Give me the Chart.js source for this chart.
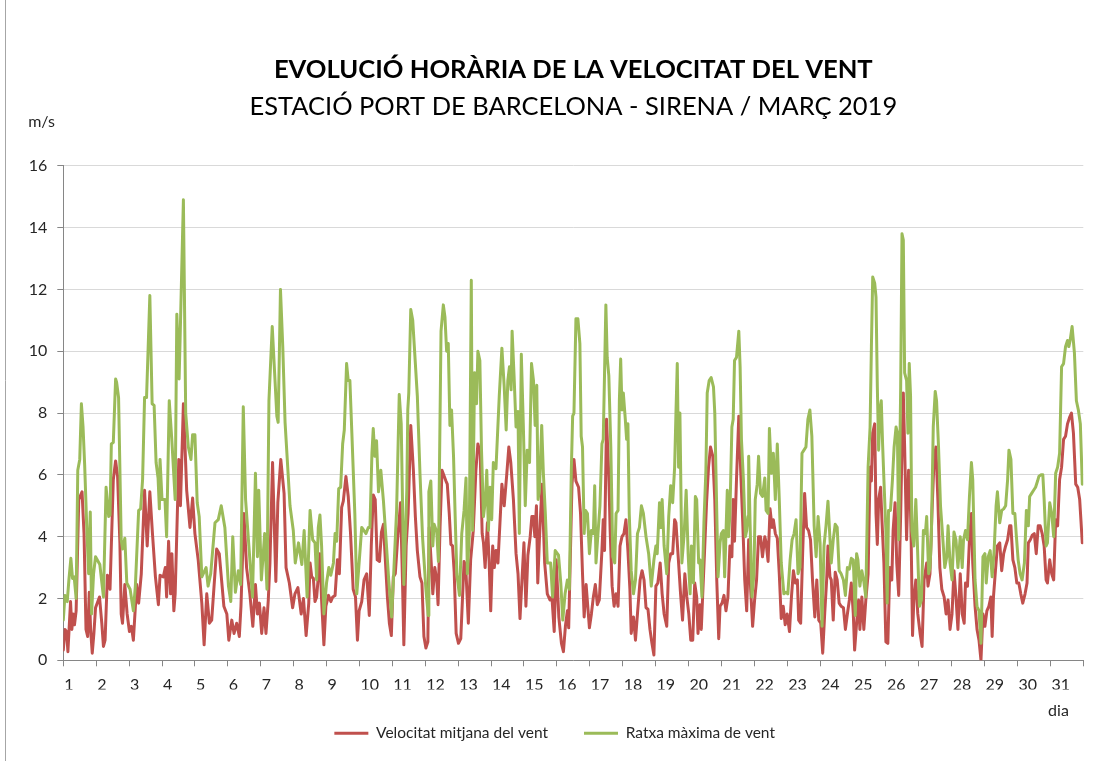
<!DOCTYPE html>
<html>
<head>
<meta charset="utf-8">
<script src="https://cdn.jsdelivr.net/npm/chart.js@4.4.1/dist/chart.umd.min.js"></script>
<style>
html,body{margin:0;padding:0;background:#fff;}
canvas{display:block;}
</style>
</head>
<body>
<canvas id="c" width="1110" height="761"></canvas>
<script>
// ---------- texts ----------
const titleText = 'EVOLUCIÓ HORÀRIA DE LA VELOCITAT DEL VENT';
const subtitleText = 'ESTACIÓ PORT DE BARCELONA - SIRENA / MARÇ 2019';
const yAxisUnit = 'm/s';
const xAxisUnit = 'dia';
const seriesNames = ['Velocitat mitjana del vent', 'Ratxa màxima de vent'];

// ---------- tick labels ----------
const dayLabels = ['1','2','3','4','5','6','7','8','9','10','11','12','13','14','15','16','17','18','19','20','21','22','23','24','25','26','27','28','29','30','31'];
const yTickValues = [0, 2, 4, 6, 8, 10, 12, 14, 16];

// ---------- data: [day offset since 1 March 00h, m/s] ----------
const meanWind = [
[0.00,0.33],[0.05,1.0],[0.10,0.93],[0.14,0.28],[0.22,1.9],[0.26,1.0],[0.30,1.5],[0.34,1.15],[0.39,1.6],[0.47,5.2],[0.57,5.45],[0.63,4.1],[0.69,1.0],[0.74,0.77],[0.79,2.2],[0.83,1.0],[0.88,0.23],[0.93,0.87],[0.98,1.7],
[1.10,2.05],[1.17,1.2],[1.22,0.45],[1.27,0.65],[1.34,2.75],[1.42,2.3],[1.52,5.85],[1.59,6.45],[1.65,5.95],[1.72,3.8],[1.76,1.5],[1.80,1.2],[1.87,2.45],[1.94,1.5],
[2.01,0.93],[2.07,1.1],[2.13,0.65],[2.23,2.45],[2.29,1.85],[2.37,2.8],[2.47,5.5],[2.55,3.7],[2.63,5.45],[2.71,4.1],[2.80,2.7],[2.89,1.8],[2.94,2.75],
[3.04,2.7],[3.10,3.0],[3.14,2.05],[3.20,3.85],[3.26,2.15],[3.30,3.45],[3.36,1.6],[3.40,2.15],[3.51,6.5],[3.56,5.0],[3.65,8.3],[3.75,5.5],[3.85,4.3],[3.93,5.25],
[4.00,4.1],[4.10,3.25],[4.21,1.85],[4.28,0.5],[4.36,2.15],[4.44,1.2],[4.51,1.3],[4.66,3.6],[4.74,3.45],[4.81,2.6],[4.88,1.75],[4.97,1.5],
[5.03,0.65],[5.12,1.3],[5.19,0.87],[5.27,1.2],[5.35,0.77],[5.40,1.75],[5.49,4.75],[5.57,3.0],[5.67,2.15],[5.76,1.1],[5.84,2.45],[5.90,1.5],[5.96,1.85],
[6.03,0.87],[6.10,1.7],[6.16,0.87],[6.23,1.95],[6.28,3.15],[6.36,6.4],[6.46,2.55],[6.52,5.1],[6.61,6.5],[6.71,5.4],[6.77,3.0],[6.87,2.5],[6.97,1.7],
[7.04,2.15],[7.13,2.35],[7.23,1.5],[7.30,2.0],[7.38,0.8],[7.46,1.85],[7.50,3.15],[7.55,2.7],[7.60,2.65],[7.65,1.9],[7.70,2.05],[7.75,2.7],[7.80,3.45],[7.85,1.95],[7.92,0.5],[7.98,1.75],
[8.06,2.1],[8.13,1.9],[8.19,2.05],[8.26,2.1],[8.33,3.25],[8.39,2.8],[8.46,4.95],[8.51,5.15],[8.59,5.95],[8.66,5.3],[8.73,4.1],[8.81,2.3],[8.88,2.05],[8.94,0.65],[8.99,1.6],
[9.07,1.9],[9.14,2.6],[9.22,2.8],[9.30,1.45],[9.36,3.7],[9.42,5.35],[9.48,5.2],[9.54,3.25],[9.61,3.2],[9.67,4.15],[9.73,4.4],[9.79,3.2],[9.85,2.05],[9.91,1.2],[9.97,0.8],
[10.03,2.7],[10.09,2.8],[10.16,3.9],[10.25,5.1],[10.31,2.5],[10.35,0.5],[10.42,3.7],[10.48,4.75],[10.56,7.6],[10.64,6.15],[10.70,4.65],[10.76,3.55],[10.84,2.7],[10.90,2.5],[10.96,0.77],
[11.02,0.4],[11.08,0.6],[11.12,4.3],[11.19,3.0],[11.23,2.15],[11.29,3.0],[11.35,2.6],[11.39,1.8],[11.45,4.3],[11.51,6.15],[11.63,5.8],[11.67,5.7],[11.73,4.75],[11.78,3.75],[11.83,3.7],[11.88,2.85],[11.94,0.87],
[12.01,0.55],[12.08,0.7],[12.18,3.2],[12.23,3.05],[12.31,1.2],[12.38,3.25],[12.46,4.2],[12.54,6.15],[12.60,7.0],[12.67,6.7],[12.73,4.1],[12.77,3.8],[12.82,3.0],[12.89,4.45],[12.94,3.25],[12.99,1.6],
[13.05,3.7],[13.10,3.0],[13.15,3.55],[13.21,3.15],[13.33,5.7],[13.40,5.0],[13.48,6.05],[13.54,6.9],[13.60,6.4],[13.68,5.2],[13.76,3.45],[13.82,2.8],[13.88,1.35],[13.94,2.6],
[14.00,3.8],[14.06,1.75],[14.12,3.4],[14.19,4.0],[14.24,4.65],[14.29,4.65],[14.33,4.0],[14.38,5.0],[14.42,2.5],[14.47,3.9],[14.55,5.7],[14.63,3.15],[14.71,2.15],[14.79,1.95],[14.85,2.05],[14.92,0.93],[14.98,3.25],
[15.06,1.4],[15.14,0.55],[15.20,0.28],[15.26,1.1],[15.32,1.6],[15.36,1.05],[15.46,5.7],[15.52,6.5],[15.58,5.8],[15.66,5.6],[15.72,4.75],[15.78,2.8],[15.83,1.4],[15.89,2.45],[15.95,1.6],[15.99,1.05],
[16.05,1.5],[16.11,2.05],[16.17,2.45],[16.23,1.8],[16.29,1.95],[16.37,3.55],[16.41,4.55],[16.45,3.55],[16.51,7.8],[16.58,5.95],[16.62,4.2],[16.68,2.4],[16.74,1.75],[16.80,2.15],[16.86,1.75],[16.92,3.7],[16.98,4.0],
[17.04,4.1],[17.10,4.55],[17.16,3.55],[17.22,2.3],[17.26,0.87],[17.33,1.4],[17.39,0.65],[17.45,1.5],[17.53,2.6],[17.59,2.9],[17.65,2.6],[17.71,1.7],[17.77,1.65],[17.83,1.0],[17.89,0.55],[17.95,0.17],
[18.01,2.4],[18.07,2.5],[18.14,3.15],[18.20,2.15],[18.26,1.5],[18.34,1.1],[18.40,3.15],[18.46,3.45],[18.52,3.45],[18.58,4.55],[18.62,4.45],[18.70,3.15],[18.76,2.15],[18.82,1.3],[18.89,2.8],[18.95,2.05],
[19.01,1.5],[19.07,0.65],[19.13,0.65],[19.19,2.5],[19.25,2.05],[19.29,0.87],[19.35,1.8],[19.39,1.0],[19.43,2.05],[19.49,3.55],[19.55,5.1],[19.61,6.25],[19.67,6.9],[19.74,6.6],[19.80,5.2],[19.86,2.6],[19.92,0.7],[19.96,1.75],
[20.02,1.85],[20.08,2.1],[20.14,1.6],[20.20,2.05],[20.26,3.7],[20.32,3.35],[20.36,5.2],[20.40,3.85],[20.46,5.85],[20.53,7.9],[20.59,6.05],[20.65,4.45],[20.71,2.6],[20.77,1.6],[20.83,3.9],[20.89,2.3],[20.95,1.1],
[21.01,1.95],[21.07,2.6],[21.13,4.0],[21.19,4.0],[21.25,3.35],[21.32,4.0],[21.36,3.8],[21.42,3.2],[21.48,4.9],[21.54,4.3],[21.58,4.55],[21.64,4.1],[21.70,3.95],[21.76,2.8],[21.82,1.35],[21.88,1.75],[21.94,1.15],
[22.00,1.5],[22.07,0.93],[22.13,2.05],[22.19,2.9],[22.25,2.5],[22.31,2.6],[22.35,1.3],[22.41,1.2],[22.47,3.45],[22.53,5.4],[22.59,4.3],[22.65,4.2],[22.71,3.9],[22.77,2.6],[22.84,1.4],[22.90,2.6],[22.96,1.3],
[23.02,1.2],[23.08,0.23],[23.14,1.5],[23.20,2.6],[23.24,3.7],[23.30,2.7],[23.34,2.6],[23.40,1.3],[23.46,2.85],[23.52,2.6],[23.58,1.85],[23.64,1.75],[23.71,1.7],[23.77,1.0],[23.83,1.5],[23.89,1.95],[23.95,2.5],
[24.01,1.5],[24.05,0.33],[24.11,1.2],[24.17,1.95],[24.21,1.0],[24.27,2.05],[24.33,1.0],[24.39,1.95],[24.46,2.8],[24.52,6.25],[24.56,5.8],[24.60,7.35],[24.66,7.65],[24.70,4.75],[24.74,3.75],[24.78,5.2],[24.84,5.6],[24.88,4.55],[24.94,3.15],
[25.00,0.6],[25.06,0.55],[25.12,3.0],[25.18,2.6],[25.22,4.2],[25.28,5.1],[25.33,3.15],[25.39,2.1],[25.45,4.75],[25.49,6.9],[25.53,8.65],[25.57,6.9],[25.63,3.9],[25.69,6.15],[25.73,5.8],[25.77,3.8],[25.81,0.8],[25.85,1.95],[25.91,2.6],[25.97,1.5],
[26.04,0.87],[26.10,0.45],[26.16,2.6],[26.24,3.15],[26.28,2.4],[26.34,2.8],[26.40,4.75],[26.46,6.4],[26.52,6.9],[26.58,5.2],[26.64,3.0],[26.70,2.3],[26.77,2.05],[26.83,1.5],[26.89,1.95],[26.95,1.0],
[27.01,1.5],[27.07,2.9],[27.13,2.05],[27.19,1.0],[27.26,2.8],[27.32,1.5],[27.38,1.2],[27.42,2.5],[27.48,2.4],[27.54,3.9],[27.60,4.75],[27.64,3.15],[27.71,1.75],[27.77,1.0],[27.83,0.65],[27.89,0.0],[27.95,1.5],
[28.01,1.1],[28.07,1.6],[28.13,1.75],[28.19,2.05],[28.23,0.77],[28.27,2.05],[28.33,2.9],[28.39,3.7],[28.46,3.8],[28.52,2.9],[28.58,3.45],[28.64,3.7],[28.70,3.9],[28.76,4.35],[28.80,4.35],[28.86,3.25],[28.92,3.0],[28.98,2.5],
[29.04,2.5],[29.10,2.15],[29.16,1.85],[29.23,2.15],[29.29,2.5],[29.33,3.8],[29.39,3.9],[29.45,4.05],[29.51,4.1],[29.57,3.45],[29.63,4.35],[29.69,4.35],[29.75,4.1],[29.81,3.7],[29.87,2.6],[29.91,2.5],[29.98,3.25],
[30.04,2.8],[30.10,2.6],[30.16,4.55],[30.22,4.35],[30.28,5.85],[30.34,6.25],[30.40,7.15],[30.46,7.25],[30.52,7.65],[30.58,7.85],[30.64,8.0],[30.70,7.35],[30.77,5.7],[30.83,5.6],[30.89,5.2],[30.97,3.8]
];

const maxGust = [
[0.00,1.3],[0.05,2.1],[0.12,1.9],[0.17,2.6],[0.23,3.3],[0.28,2.65],[0.33,2.7],[0.39,2.0],[0.44,6.15],[0.50,6.5],[0.55,8.3],[0.60,7.55],[0.65,6.3],[0.71,4.4],[0.77,2.8],[0.82,4.8],[0.86,1.5],[0.92,2.8],[0.98,3.35],
[1.11,3.1],[1.22,2.05],[1.30,5.6],[1.38,4.65],[1.42,4.7],[1.46,7.0],[1.52,7.05],[1.59,9.1],[1.62,9.0],[1.68,8.5],[1.76,3.9],[1.80,3.6],[1.87,3.95],[1.93,2.5],
[2.03,2.3],[2.13,1.6],[2.19,2.4],[2.29,4.85],[2.35,4.9],[2.41,5.85],[2.47,8.5],[2.53,8.5],[2.63,11.8],[2.70,8.3],[2.76,8.25],[2.82,6.4],[2.88,5.9],[2.92,4.9],[2.94,6.5],
[3.00,5.2],[3.09,5.2],[3.14,4.0],[3.22,8.4],[3.30,7.1],[3.40,5.2],[3.45,11.2],[3.52,9.1],[3.55,10.4],[3.65,14.9],[3.72,8.0],[3.80,6.9],[3.88,6.5],[3.93,7.3],
[4.00,7.3],[4.07,5.1],[4.13,4.65],[4.21,2.7],[4.34,3.0],[4.40,2.4],[4.48,2.8],[4.61,4.45],[4.71,4.55],[4.80,5.0],[4.91,4.3],
[5.02,2.4],[5.09,1.9],[5.15,4.0],[5.23,2.2],[5.32,2.9],[5.39,2.45],[5.47,8.2],[5.54,5.2],[5.64,3.7],[5.75,2.05],[5.84,6.05],[5.90,3.35],[5.94,5.5],
[6.02,2.6],[6.12,4.1],[6.19,2.3],[6.25,8.4],[6.35,10.8],[6.49,7.9],[6.53,7.7],[6.60,12.0],[6.67,10.15],[6.74,7.7],[6.89,5.0],[6.99,4.2],
[7.05,3.15],[7.15,3.8],[7.25,3.1],[7.32,4.2],[7.41,2.05],[7.50,4.85],[7.58,3.9],[7.65,3.8],[7.70,2.6],[7.75,4.3],[7.80,4.7],[7.85,3.7],[7.92,1.5],
[8.00,2.5],[8.07,3.0],[8.13,2.75],[8.21,3.15],[8.26,4.1],[8.31,3.85],[8.37,5.55],[8.43,5.6],[8.49,7.0],[8.54,7.45],[8.61,9.6],[8.66,9.05],[8.71,9.05],[8.77,7.35],[8.86,4.75],[8.92,2.15],[8.98,3.0],
[9.07,4.3],[9.20,4.1],[9.27,4.3],[9.32,4.3],[9.38,6.7],[9.42,7.5],[9.47,6.6],[9.52,7.1],[9.58,5.45],[9.65,6.15],[9.73,5.15],[9.81,3.9],[9.89,2.6],[9.98,1.4],
[10.05,3.0],[10.13,4.85],[10.21,8.6],[10.27,7.65],[10.35,2.45],[10.44,5.5],[10.47,8.1],[10.50,8.65],[10.56,11.35],[10.62,11.0],[10.76,8.55],[10.84,6.05],[10.92,3.95],
[11.02,2.3],[11.09,1.45],[11.11,5.45],[11.17,5.8],[11.23,3.7],[11.27,4.4],[11.35,4.15],[11.40,3.2],[11.48,10.65],[11.55,11.5],[11.60,11.1],[11.65,10.0],[11.70,10.25],[11.75,7.6],[11.80,8.1],[11.86,6.6],[11.91,4.65],[11.96,2.8],
[12.04,2.1],[12.11,4.1],[12.18,4.85],[12.24,5.9],[12.28,2.8],[12.34,4.1],[12.40,12.3],[12.44,4.2],[12.50,9.3],[12.56,8.3],[12.60,10.0],[12.66,9.7],[12.71,6.8],[12.77,4.65],[12.83,5.2],[12.87,6.15],[12.92,4.2],[12.97,5.6],
[13.02,4.55],[13.07,6.4],[13.15,6.2],[13.25,8.55],[13.33,10.1],[13.40,8.85],[13.46,7.45],[13.51,9.05],[13.56,9.5],[13.61,8.75],[13.64,10.65],[13.70,9.2],[13.76,7.55],[13.82,8.05],[13.86,4.1],[13.92,9.9],[13.98,7.65],
[14.04,5.0],[14.10,6.8],[14.17,6.4],[14.23,9.6],[14.29,9.05],[14.34,7.6],[14.39,8.9],[14.43,5.2],[14.47,5.5],[14.54,7.6],[14.59,6.05],[14.65,4.75],[14.71,3.15],[14.81,3.15],[14.87,2.05],[14.95,3.55],
[15.05,3.4],[15.12,2.5],[15.18,1.3],[15.25,2.15],[15.32,2.6],[15.38,2.3],[15.44,6.15],[15.48,7.9],[15.52,8.0],[15.58,11.05],[15.64,11.05],[15.70,10.25],[15.74,7.25],[15.78,6.9],[15.83,4.1],[15.87,4.85],[15.93,4.75],[15.99,3.45],
[16.05,4.2],[16.11,4.1],[16.15,5.65],[16.19,3.15],[16.25,4.1],[16.31,5.0],[16.37,7.0],[16.41,7.15],[16.45,9.3],[16.49,11.5],[16.53,9.8],[16.58,9.2],[16.64,6.9],[16.70,3.35],[16.76,3.15],[16.80,4.75],[16.86,4.85],[16.90,8.4],[16.94,9.75],[16.98,8.1],
[17.02,8.65],[17.08,7.8],[17.12,7.15],[17.16,7.65],[17.20,4.75],[17.26,2.9],[17.33,2.15],[17.39,2.6],[17.45,4.1],[17.51,4.3],[17.57,5.0],[17.63,4.75],[17.71,4.0],[17.79,3.45],[17.87,2.4],[17.95,3.25],
[18.01,3.7],[18.05,3.45],[18.12,5.1],[18.16,4.3],[18.20,5.2],[18.26,3.7],[18.34,2.8],[18.40,4.65],[18.46,5.65],[18.52,5.1],[18.58,6.25],[18.62,8.0],[18.66,9.6],[18.70,6.25],[18.74,8.0],[18.80,3.15],[18.87,4.1],[18.93,5.5],[18.99,3.45],
[19.05,2.15],[19.09,3.7],[19.15,2.5],[19.21,5.3],[19.25,5.2],[19.31,3.15],[19.35,3.25],[19.41,2.05],[19.47,4.45],[19.53,6.15],[19.57,8.65],[19.63,9.05],[19.69,9.15],[19.76,8.85],[19.80,8.0],[19.84,5.85],[19.90,2.7],[19.96,3.8],
[20.00,4.1],[20.06,4.2],[20.10,2.7],[20.14,4.1],[20.18,5.5],[20.22,4.0],[20.26,4.75],[20.32,7.55],[20.36,7.8],[20.40,9.7],[20.46,9.8],[20.53,10.65],[20.57,9.5],[20.61,7.15],[20.67,5.85],[20.73,4.0],[20.77,4.2],[20.81,4.65],[20.83,6.6],[20.87,4.55],[20.93,2.05],[20.99,2.8],
[21.03,5.2],[21.09,5.7],[21.13,6.6],[21.19,5.4],[21.25,5.3],[21.32,5.9],[21.36,4.85],[21.42,4.75],[21.46,7.5],[21.52,6.05],[21.58,6.7],[21.64,5.2],[21.70,7.0],[21.76,5.2],[21.82,3.15],[21.90,2.15],[21.96,2.2],
[22.02,2.15],[22.09,3.25],[22.15,3.9],[22.21,4.1],[22.27,4.55],[22.33,2.8],[22.39,3.0],[22.45,6.7],[22.51,6.8],[22.57,6.9],[22.63,7.8],[22.69,8.1],[22.75,7.25],[22.82,4.35],[22.88,3.35],[22.94,4.65],
[23.00,3.8],[23.06,1.1],[23.12,3.7],[23.18,4.35],[23.24,5.15],[23.34,3.15],[23.40,3.9],[23.46,4.4],[23.52,4.3],[23.58,2.9],[23.64,2.8],[23.71,2.6],[23.77,2.1],[23.83,3.0],[23.89,2.95],[23.95,3.3],
[24.01,3.25],[24.07,1.45],[24.11,3.45],[24.15,3.25],[24.21,2.4],[24.27,2.9],[24.33,2.55],[24.39,2.05],[24.46,6.25],[24.52,7.55],[24.56,10.15],[24.60,12.4],[24.66,12.2],[24.70,11.75],[24.74,8.85],[24.78,6.8],[24.82,8.1],[24.86,8.4],[24.90,7.0],[24.94,5.85],
[25.00,4.2],[25.04,1.85],[25.08,4.85],[25.14,4.85],[25.20,5.85],[25.25,6.9],[25.31,7.55],[25.35,7.35],[25.39,3.9],[25.45,8.85],[25.49,13.8],[25.53,13.6],[25.57,9.3],[25.63,9.05],[25.67,7.35],[25.71,9.6],[25.75,8.55],[25.79,4.2],[25.85,3.7],[25.91,5.2],[25.95,4.0],
[26.02,1.75],[26.08,1.95],[26.14,4.2],[26.20,4.1],[26.24,4.65],[26.30,2.8],[26.34,3.0],[26.38,3.9],[26.44,7.55],[26.50,8.7],[26.54,8.4],[26.60,6.9],[26.66,5.0],[26.72,4.1],[26.79,3.0],[26.85,3.35],[26.89,4.35],[26.95,3.15],
[27.01,2.6],[27.07,4.15],[27.13,3.9],[27.19,3.0],[27.26,4.0],[27.32,3.0],[27.36,3.9],[27.42,4.2],[27.48,3.9],[27.54,5.3],[27.60,6.4],[27.64,5.85],[27.71,2.6],[27.77,1.75],[27.83,1.6],[27.89,0.55],[27.95,3.35],
[28.01,3.45],[28.05,2.5],[28.11,3.35],[28.17,3.55],[28.23,2.7],[28.29,3.55],[28.35,5.0],[28.39,5.45],[28.46,4.45],[28.52,4.85],[28.58,4.9],[28.64,5.0],[28.70,5.85],[28.74,6.8],[28.80,6.5],[28.86,4.75],[28.92,4.75],[28.96,4.1],
[29.02,3.25],[29.08,2.8],[29.14,2.6],[29.21,3.15],[29.27,4.85],[29.33,4.35],[29.37,5.3],[29.43,5.4],[29.49,5.5],[29.55,5.6],[29.61,5.8],[29.65,5.95],[29.71,6.0],[29.77,6.0],[29.81,5.2],[29.87,3.7],[29.91,3.8],[29.98,5.1],
[30.04,4.75],[30.10,4.0],[30.16,6.05],[30.22,6.25],[30.28,6.7],[30.34,9.5],[30.40,9.6],[30.46,10.15],[30.52,10.35],[30.56,10.15],[30.60,10.35],[30.66,10.8],[30.73,9.95],[30.79,8.4],[30.85,8.1],[30.91,7.65],[30.97,5.7]
];

// ---------- style ----------
const colorMean = '#C0504D';
const colorGust = '#9BBB59';
const axisColor = '#868686';
const gridColor = '#d9d9d9';
const textColor = '#262626';
const fontFamily = 'Lato, "Open Sans", sans-serif';

const W = 1110, H = 761;
const plotTop = 165.8, plotBottom = 660.3, plotLeft = 63.3, plotRight = 1083.3;
const titleMid = 70, subtitleMid = 107, legendMid = 733.3, legendGap = 36;

const meas = document.createElement('canvas').getContext('2d');
function fitFont(text, weight, target) {
  meas.font = weight + ' 100px ' + fontFamily;
  return 100 * target / meas.measureText(text).width;
}
const titleSize = fitFont(titleText, 'bold', 599);
const subtitleSize = fitFont(subtitleText, 'normal', 648);
const legendSize = fitFont(seriesNames[0], 'normal', 172);

const padL = 26, padR = W - plotRight;
const titlePadTop = titleMid - 0.6 * titleSize;
const subGap = subtitleMid - titleMid - 0.6 * titleSize - 0.6 * subtitleSize;
const subPadBottom = plotTop - subtitleMid - 0.6 * subtitleSize;
const padB = H - legendMid - 10 - legendSize / 2;
const legendH = legendSize + legendGap + 10;
const xScaleH = H - padB - legendH - plotBottom;
const yScaleW = plotLeft - padL;

const extraText = {
  id: 'extraText',
  afterDraw(chart) {
    const ctx = chart.ctx;
    ctx.save();
    ctx.fillStyle = textColor;
    ctx.font = '16px ' + fontFamily;
    ctx.textAlign = 'center';
    ctx.textBaseline = 'alphabetic';
    ctx.fillText(yAxisUnit, 41.5, 127);
    ctx.fillText(xAxisUnit, 1058.5, 716);
    ctx.strokeStyle = '#a6a6a6';
    ctx.lineWidth = 1;
    ctx.beginPath();
    ctx.moveTo(5.5, 0); ctx.lineTo(5.5, H);
    ctx.stroke();
    ctx.restore();
  }
};

const toXY = arr => arr.map(p => ({ x: p[0], y: p[1] }));

new Chart(document.getElementById('c'), {
  type: 'line',
  data: {
    datasets: [
      { label: seriesNames[0], data: toXY(meanWind), borderColor: colorMean, backgroundColor: colorMean,
        borderWidth: 3, pointRadius: 0, pointBorderWidth: 3, tension: 0, order: 1,
        borderJoinStyle: 'round', borderCapStyle: 'round' },
      { label: seriesNames[1], data: toXY(maxGust), borderColor: colorGust, backgroundColor: colorGust,
        borderWidth: 3, pointRadius: 0, pointBorderWidth: 3, tension: 0, order: 0,
        borderJoinStyle: 'round', borderCapStyle: 'round' }
    ]
  },
  options: {
    responsive: false,
    animation: false,
    devicePixelRatio: 1,
    events: [],
    layout: { padding: { top: 0, left: padL, right: padR, bottom: padB } },
    scales: {
      x: {
        type: 'linear', min: 0, max: 31,
        afterFit: s => { s.height = xScaleH; },
        border: { display: true, color: axisColor, width: 1 },
        grid: { drawOnChartArea: false, drawTicks: true, tickLength: 6, tickColor: axisColor },
        ticks: {
          stepSize: 1, autoSkip: false, maxRotation: 0, minRotation: 0,
          align: 'start', labelOffset: 1, padding: 9,
          color: textColor, font: { family: fontFamily, size: 16 },
          callback: (v, i) => (dayLabels[i] !== undefined ? dayLabels[i] : '')
        }
      },
      y: {
        min: 0, max: 16,
        afterFit: s => { s.width = yScaleW; },
        afterBuildTicks: s => { s.ticks = yTickValues.map(v => ({ value: v })); },
        border: { display: true, color: axisColor, width: 1 },
        grid: { color: gridColor, drawTicks: true, tickLength: 6, tickColor: axisColor },
        ticks: { padding: 10, color: textColor, font: { family: fontFamily, size: 16 } }
      }
    },
    plugins: {
      title: {
        display: true, text: titleText, fullSize: false, color: '#000',
        font: { family: fontFamily, weight: 'bold', size: titleSize, lineHeight: 1.2 },
        padding: { top: titlePadTop, bottom: 0 }
      },
      subtitle: {
        display: true, text: subtitleText, fullSize: false, color: '#000',
        font: { family: fontFamily, weight: 'normal', size: subtitleSize, lineHeight: 1.2 },
        padding: { top: subGap, bottom: subPadBottom }
      },
      legend: {
        position: 'bottom', fullSize: true,
        labels: {
          usePointStyle: true, pointStyle: 'line', pointStyleWidth: 34,
          padding: legendGap, color: textColor,
          font: { family: fontFamily, size: legendSize },
          sort: (a, b) => a.datasetIndex - b.datasetIndex
        }
      },
      tooltip: { enabled: false }
    }
  },
  plugins: [extraText]
});
</script>
</body>
</html>
